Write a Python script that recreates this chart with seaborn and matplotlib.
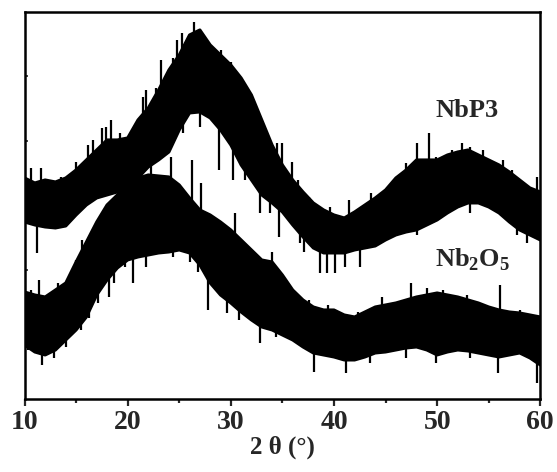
import numpy as np
import pandas as pd
import seaborn as sns
import matplotlib
matplotlib.use("Agg")
import matplotlib.pyplot as plt

# Data (arbitrary intensity units)

two_theta = list(range(10, 61))

nbp3_top = [221, 216, 219, 217, 221, 229, 239, 249, 259, 259, 261, 279, 291, 309, 329, 344, 364, 369,
            354, 344, 334, 321, 304, 279, 254, 234, 219, 207, 196, 189, 184, 181, 187, 194, 201, 209,
            221, 229, 239, 239, 239, 244, 247, 249, 244, 239, 234, 227, 219, 211, 207]
nbp3_bottom = [177, 174, 172, 171, 173, 184, 194, 201, 204, 207, 211, 221, 232, 239, 247, 269, 286, 287,
               281, 269, 254, 234, 219, 204, 196, 187, 174, 162, 151, 146, 146, 146, 149, 151, 153, 159,
               164, 167, 169, 174, 179, 186, 192, 196, 196, 192, 186, 177, 169, 164, 159]

nb2o5_top = [107, 104, 102, 109, 116, 137, 157, 177, 194, 204, 217, 221, 224, 223, 222, 214, 201, 189,
             184, 177, 169, 159, 149, 139, 137, 124, 109, 99, 92, 89, 89, 84, 82, 87, 92, 94,
             96, 99, 102, 104, 106, 104, 102, 99, 96, 92, 89, 87, 86, 84, 82]
nb2o5_bottom = [54, 47, 44, 49, 59, 69, 82, 104, 119, 131, 139, 142, 144, 146, 147, 149, 146, 134,
                116, 104, 96, 87, 79, 72, 69, 64, 59, 52, 46, 44, 42, 39, 39, 42, 46, 47,
                49, 51, 52, 49, 44, 47, 49, 48, 46, 44, 42, 44, 46, 41, 34]

# noise spikes poking out of the bands
nbp3_up_x = [10.6, 11.6, 13.5, 15.0, 16.2, 16.6, 17.5, 17.9, 18.4, 19.3, 21.5, 21.8, 22.7, 23.2, 24.4,
             24.8, 25.3, 26.4, 26.9, 27.9, 29.0, 30.0, 30.8, 31.6, 32.1, 34.5, 35.0, 35.9, 36.5, 37.6,
             39.6, 41.5, 43.6, 44.7, 47.0, 48.0, 49.2, 49.9, 51.4, 52.4, 53.2, 54.4, 56.4, 57.3, 58.5,
             59.7]
nbp3_up_y = [231, 231, 222, 237, 254, 259, 271, 272, 279, 266, 302, 309, 311, 339, 341, 359, 366, 377,
             369, 354, 349, 337, 299, 299, 297, 256, 256, 237, 219, 202, 192, 199, 206, 207, 236, 256,
             266, 242, 249, 256, 252, 249, 239, 229, 209, 222]
nbp3_down_x = [11.2, 25.4, 27.0, 28.9, 29.7, 30.2, 31.4, 32.8, 33.8, 34.7, 36.7, 37.1, 38.6, 39.3, 40.1,
               41.1, 42.5, 48.0, 53.2, 57.7, 58.7]
nbp3_down_y = [146, 266, 272, 229, 266, 219, 219, 186, 186, 162, 156, 147, 126, 126, 126, 132, 132, 164,
               186, 164, 156]

nb2o5_up_x = [10.6, 11.4, 13.2, 15.0, 15.6, 22.3, 24.2, 26.2, 27.1, 30.4, 34.0, 37.6, 39.4, 42.3, 44.7,
              47.5, 49.0, 50.6, 52.9, 56.1, 58.0]
nb2o5_up_y = [109, 119, 116, 139, 159, 236, 242, 239, 216, 186, 147, 99, 94, 87, 102, 116, 111, 109, 104,
              114, 89]
nb2o5_down_x = [10.3, 11.7, 12.9, 14.0, 15.5, 16.3, 17.1, 18.2, 18.7, 19.7, 20.5, 21.8, 24.4, 26.0, 26.8,
                27.8, 29.6, 30.8, 32.8, 34.4, 38.1, 41.2, 43.5, 47.0, 49.9, 53.2, 55.9, 59.7]
nb2o5_down_y = [49, 34, 41, 52, 69, 81, 96, 102, 116, 132, 116, 132, 142, 137, 127, 89, 86, 79, 56, 62,
                27, 26, 36, 41, 36, 41, 26, 16]

labels = ["NbP3", "Nb$_\\mathbf{2}$O$_\\mathbf{5}$"]

# Long table for seaborn

df = pd.concat([
    pd.DataFrame({"x": two_theta, "y": nbp3_top, "edge": "NbP3 top"}),
    pd.DataFrame({"x": two_theta, "y": nbp3_bottom, "edge": "NbP3 bottom"}),
    pd.DataFrame({"x": two_theta, "y": nb2o5_top, "edge": "Nb2O5 top"}),
    pd.DataFrame({"x": two_theta, "y": nb2o5_bottom, "edge": "Nb2O5 bottom"}),
])

sns.set_style("ticks")
plt.rcParams["font.family"] = ["Liberation Serif", "DejaVu Serif"]
plt.rcParams["font.weight"] = "bold"
plt.rcParams["mathtext.fontset"] = "custom"
plt.rcParams["mathtext.rm"] = "Liberation Serif:bold"
plt.rcParams["mathtext.bf"] = "Liberation Serif:bold"

fig = plt.figure(figsize=(5.57, 4.72), dpi=100)
ax = fig.add_axes([0.044, 0.1547, 0.926, 0.82])

ax.fill_between(two_theta, nbp3_bottom, nbp3_top, color="black", lw=0)
ax.fill_between(two_theta, nb2o5_bottom, nb2o5_top, color="black", lw=0)
sns.lineplot(data=df, x="x", y="y", hue="edge", units="edge", estimator=None,
             palette=["black"] * 4, lw=2.2, legend=False, ax=ax)


def spikes(xs, ys, top, bottom):
    # spike starts in the middle of the band at the nearest whole degree
    base = [(top[int(round(x)) - 10] + bottom[int(round(x)) - 10]) / 2 for x in xs]
    ax.vlines(xs, base, ys, color="black", lw=1.6)


spikes(nbp3_up_x, nbp3_up_y, nbp3_top, nbp3_bottom)
spikes(nbp3_down_x, nbp3_down_y, nbp3_top, nbp3_bottom)
spikes(nb2o5_up_x, nb2o5_up_y, nb2o5_top, nb2o5_bottom)
spikes(nb2o5_down_x, nb2o5_down_y, nb2o5_top, nb2o5_bottom)

ax.set_xlim(10, 60)
ax.set_ylim(0, 387)
ax.set_xticks(range(10, 61, 10))
ax.set_xticks(range(15, 60, 10), minor=True)
ax.set_yticks(np.arange(64.5, 387, 64.5))
ax.set_yticklabels([])
ax.tick_params(axis="x", which="major", direction="out", length=5, width=1.6, labelsize=20, pad=3)
ax.tick_params(axis="x", which="minor", direction="out", length=3, width=1.6)
ax.tick_params(axis="y", direction="in", length=2, width=1.2)
for lab in ax.get_xticklabels():
    lab.set_fontweight("bold")
for s in ax.spines.values():
    s.set_linewidth(1.8)
    s.set_color("black")

ax.set_xlabel("2 θ (°)", fontsize=18, fontweight="bold", labelpad=0)
ax.set_ylabel("")

ax.text(52.9, 282, labels[0], fontsize=19, fontweight="bold", ha="center", va="baseline")
ax.text(53.4, 132, labels[1], fontsize=19, fontweight="bold", ha="center", va="baseline")

fig.savefig("out.png", dpi=100)
